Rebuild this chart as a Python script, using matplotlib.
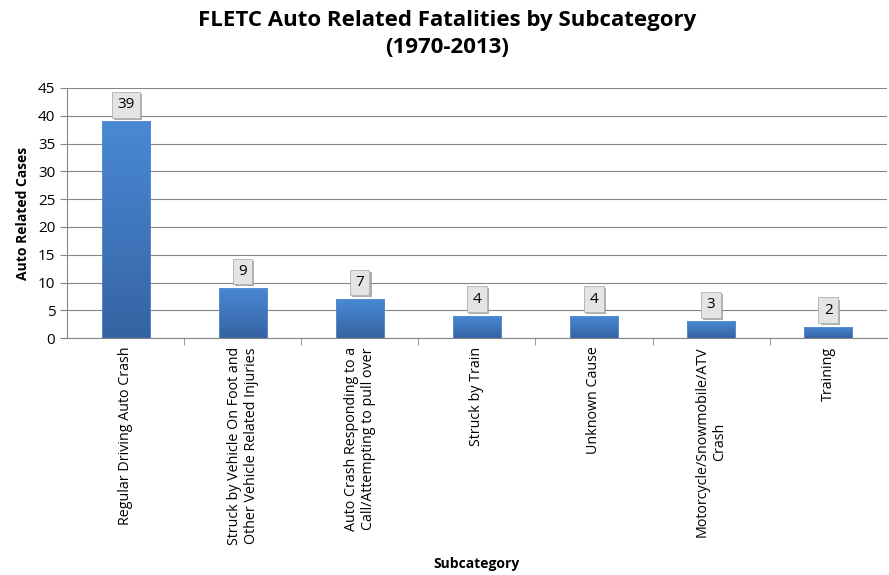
import numpy as np
import matplotlib
matplotlib.use('Agg')
import matplotlib.pyplot as plt
import matplotlib.patheffects as pe
from matplotlib.colors import LinearSegmentedColormap

plt.rcParams['font.family'] = ['Open Sans', 'DejaVu Sans']

# data
categories = [
    'Regular Driving Auto Crash',
    'Struck by Vehicle On Foot and\nOther Vehicle Related Injuries',
    'Auto Crash Responding to a\nCall/Attempting to pull over',
    'Struck by Train',
    'Unknown Cause',
    'Motorcycle/Snowmobile/ATV\nCrash',
    'Training',
]
cases = [39, 9, 7, 4, 4, 3, 2]
y_ticks = [0, 5, 10, 15, 20, 25, 30, 35, 40, 45]

fig = plt.figure(figsize=(8.89, 5.75), dpi=100)
ax = fig.add_axes([0.0754, 0.412, 0.922, 0.435])

x = np.arange(len(categories))
width = 0.41
bars = ax.bar(x, cases, width=width, color='none', edgecolor='#5b8fd0', linewidth=0.6, zorder=3)

# vertical gradient fill, lighter on top
grad_cmap = LinearSegmentedColormap.from_list('bar_grad', ['#3563a2', '#4a89d6'])
grad = np.linspace(0, 1, 256).reshape(-1, 1)
for b in bars:
    x0, y0 = b.get_x(), b.get_y()
    im = ax.imshow(grad, cmap=grad_cmap, aspect='auto', origin='lower',
                   extent=[x0, x0 + b.get_width(), y0, y0 + b.get_height()], zorder=2)
    im.set_clip_path(b)

# value labels in little grey boxes with a shadow
for xi, v in zip(x, cases):
    t = ax.annotate(str(v), (xi, v), xytext=(0, 12), textcoords='offset points',
                    ha='center', va='center', fontsize=11, color='black', zorder=5,
                    bbox=dict(boxstyle='square,pad=0.35', fc='#e4e4e4', ec='#b0b0b0', lw=0.6))
    t.get_bbox_patch().set_path_effects(
        [pe.SimplePatchShadow(offset=(1.5, -1.5), shadow_rgbFace='#9a9a9a', alpha=0.8), pe.Normal()])

ax.set_xlim(-0.5, len(categories) - 0.5)
ax.set_ylim(0, 45)
ax.set_yticks(y_ticks)
ax.set_xticks(x)
ax.set_xticklabels(categories, rotation=90, fontsize=10.3)
ax.set_xticks(np.arange(len(categories) - 1) + 0.5, minor=True)
ax.tick_params(axis='x', which='major', length=0, pad=6)
ax.tick_params(axis='x', which='minor', length=5, color='#868686')
ax.tick_params(axis='y', length=5, color='#868686', labelsize=11)
ax.yaxis.grid(True, color='#868686', linewidth=0.8, zorder=0)
ax.set_axisbelow(True)
for s in ['top', 'right']:
    ax.spines[s].set_visible(False)
for s in ['left', 'bottom']:
    ax.spines[s].set_color('#868686')

ax.set_ylabel('Auto Related Cases', fontsize=10, fontweight='bold', labelpad=6)
ax.set_xlabel('Subcategory', fontsize=10, fontweight='bold', labelpad=9)
fig.suptitle('FLETC Auto Related Fatalities by Subcategory\n(1970-2013)',
             x=0.503, y=0.982, fontsize=16, fontweight='bold', linespacing=1.35)

fig.savefig('out.png', dpi=100)
